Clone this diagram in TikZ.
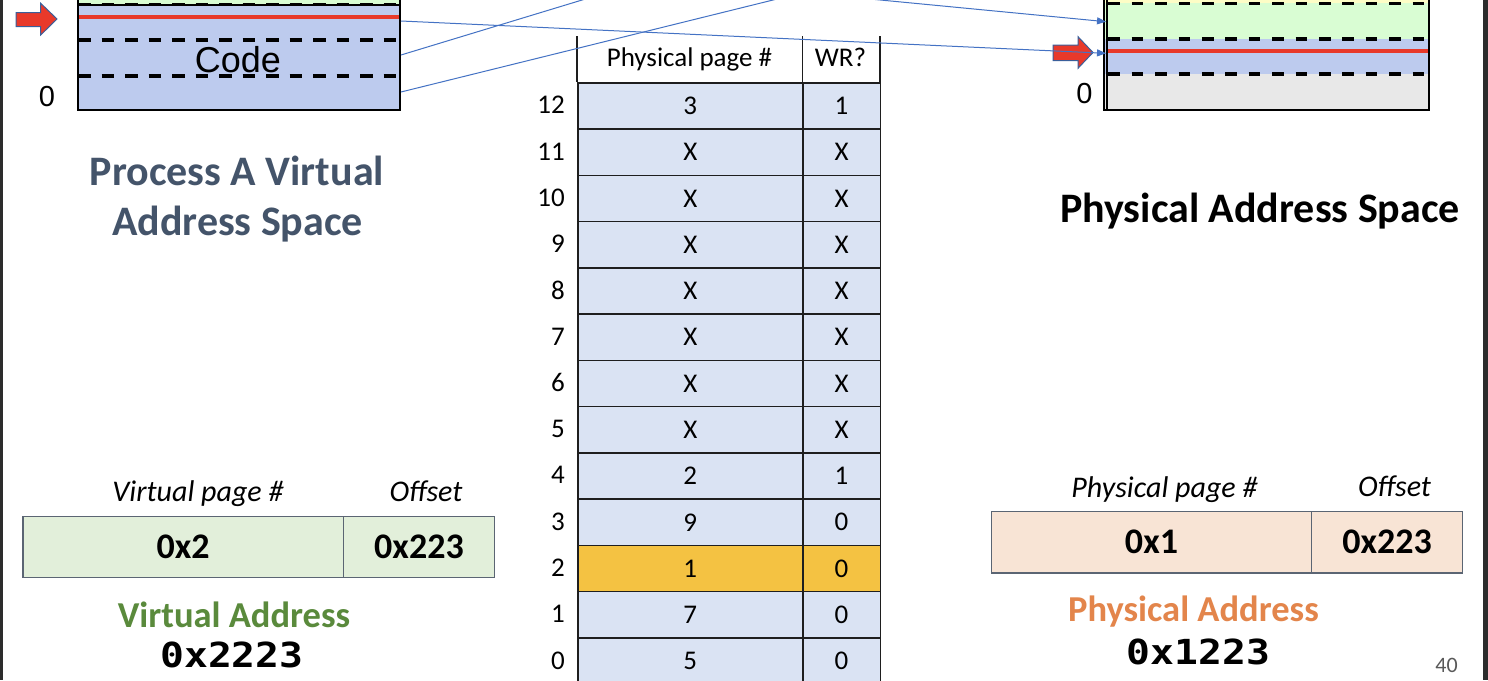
\documentclass[tikz,border=0pt]{standalone}
\usepackage{fontspec}
\setmainfont{Carlito}
\newfontfamily\arialf{Liberation Sans}
\newfontfamily\monof{DejaVu Sans Mono}
\usetikzlibrary{arrows.meta}
\definecolor{memblue}{HTML}{BDCBEE}
\definecolor{memgreen}{HTML}{D9FDD3}
\definecolor{memyellow}{HTML}{FDFDC6}
\definecolor{memgray}{HTML}{E8E8E8}
\definecolor{tabblue}{HTML}{DAE3F3}
\definecolor{tabgold}{HTML}{F4C242}
\definecolor{tabline}{HTML}{1E1E1E}
\definecolor{vabg}{HTML}{E2EFDA}
\definecolor{pabg}{HTML}{F8E4D5}
\definecolor{boxline}{HTML}{5B6573}
\definecolor{titlegray}{HTML}{44546A}
\definecolor{vagreen}{HTML}{5A8A3C}
\definecolor{paorange}{HTML}{E3854B}
\definecolor{arrred}{HTML}{E8392A}
\definecolor{arrline}{HTML}{3A5F9A}
\definecolor{connblue}{HTML}{4472C4}
\definecolor{edgedark}{HTML}{2C2C2C}
\definecolor{pagenum}{HTML}{595959}
\begin{document}
\begin{tikzpicture}[x=1pt,y=-1pt,
  dashsepl/.style={line width=3.4pt, dash pattern=on 12.5pt off 11pt},
  dashsepr/.style={line width=3.4pt, dash pattern=on 11.7pt off 11.7pt},
  redsep/.style={arrred, line width=4pt},
  memedge/.style={line width=2pt, black},
  blockarrow/.style={fill=arrred, draw=arrline, line width=1pt, line join=miter},
  conn/.style={connblue, line width=1pt},
  conntip/.style={conn, -{Triangle[length=9pt,width=7pt]}},
  cell/.style={draw=tabline, line width=1.5pt, inner sep=0pt, anchor=north west, minimum height=46.27pt, font=\fontsize{27}{32}\selectfont},
  rowlab/.style={anchor=east, inner sep=0pt, font=\fontsize{27}{32}\selectfont},
  headtxt/.style={anchor=base, inner sep=0pt, font=\fontsize{27}{32}\selectfont},
  fieldlab/.style={anchor=base, inner sep=0pt, font=\itshape\fontsize{30}{36}\selectfont},
  addrcell/.style={draw=boxline, line width=1.3pt, inner sep=0pt, anchor=north west, font=\bfseries\fontsize{36}{43}\selectfont},
  addrtitle/.style={anchor=base, inner sep=0pt, font=\bfseries\fontsize{36.5}{44}\selectfont},
  addrval/.style={anchor=base, inner sep=0pt, font=\monof\bfseries\fontsize{34.5}{41}\selectfont},
  spacetitle/.style={anchor=base, inner sep=0pt, font=\bfseries\fontsize{42}{50}\selectfont},
  zerolab/.style={anchor=base, inner sep=0pt, font=\arialf\fontsize{29}{35}\selectfont},
]
\useasboundingbox (0,0) rectangle (1488,680);
\clip (0,0) rectangle (1488,680);
\fill[white] (0,0) rectangle (1488,680);

% ---- left (virtual) memory box
\fill[memgreen] (78,-20) rectangle (400,5);
\fill[memblue] (78,5) rectangle (400,110);
\draw[line width=1.8pt] (78,5) -- (400,5);
\draw[dashsepl] (78,4.5) -- (400,4.5);
\draw[dashsepl] (78,40) -- (400,40);
\draw[dashsepl] (78,76) -- (400,76);
\draw[redsep] (78,16.7) -- (400,16.7);
\draw[memedge] (77.5,-20) -- (77.5,110) -- (400,110) -- (400,-20);
\node[anchor=base, inner sep=0pt, font=\arialf\fontsize{36}{43}\selectfont] (code) at (238,72) {Code};
\node[zerolab] (vzero) at (47,106.7) {0};
\draw[blockarrow] (16,12.7) -- (40.7,12.7) -- (40.7,3.3) -- (57,19) -- (40.7,35) -- (40.7,26.7) -- (16,26.7) -- cycle;

% ---- right (physical) memory box
\fill[memyellow] (1105,-20) rectangle (1429,3.3);
\fill[memgreen] (1105,3.3) rectangle (1429,39);
\fill[memblue] (1105,39) rectangle (1429,74);
\fill[memgray] (1105,74) rectangle (1429,110);
\draw[dashsepr] (1108.3,3.3) -- (1429,3.3);
\draw[dashsepr] (1108.3,39) -- (1429,39);
\draw[dashsepr] (1108.3,74) -- (1429,74);
\draw[redsep] (1107,50.7) -- (1429,50.7);
\draw[memedge] (1104,-20) -- (1104,110) -- (1429,110) -- (1429,-20);
\draw[line width=1.5pt] (1107.2,-20) -- (1107.2,110);
\node[zerolab] (pzero) at (1084.5,103.3) {0};
\draw[blockarrow] (1053,45) -- (1078,45) -- (1078,36.7) -- (1093,52.5) -- (1078,68.3) -- (1078,60.7) -- (1053,60.7) -- cycle;

% ---- titles
\node[spacetitle, text=titlegray] (vt1) at (237,185) {Process A Virtual};
\node[spacetitle, text=titlegray] (vt2) at (237.5,235) {Address Space};
\node[spacetitle] (pt) at (1260,222) {Physical Address Space};

% ---- page table
\node[anchor=north west, minimum width=225pt, minimum height=46pt, inner sep=0pt] (hpp) at (577,36) {};
\node[anchor=north west, minimum width=77.5pt, minimum height=46pt, inner sep=0pt] (hwr) at (802,36) {};
\node[headtxt] (hpptxt) at (689.5,66.7) {Physical page \#};
\node[headtxt] (hwrtxt) at (840.5,66.7) {WR?};
\draw[tabline, line width=1.5pt] (hpp.north west) -- (hpp.south west)
  (hpp.north east) -- (hpp.south east) (hwr.north east) -- (hwr.south east);
\foreach \lab/\pp/\wr [count=\k from 0] in {12/3/1,11/X/X,10/X/X,9/X/X,8/X/X,7/X/X,6/X/X,5/X/X,4/2/1,3/9/0,2/1/0,1/7/0,0/5/0}{
  \ifnum\lab=2 \def\rowfill{tabgold}\else\def\rowfill{tabblue}\fi
  \pgfmathsetmacro\ytop{82+46.27*\k}
  \pgfmathsetmacro\ymid{\ytop+23.13}
  \node[cell, fill=\rowfill, minimum width=225pt] (pp\lab) at (577,\ytop) {\pp};
  \node[cell, fill=\rowfill, minimum width=77.5pt] (wr\lab) at (802,\ytop) {\wr};
  \node[rowlab] (lab\lab) at (565,\ymid) {\lab};
}

% ---- virtual address
\node[fieldlab] (vpnlab) at (198,501.5) {Virtual page \#};
\node[fieldlab] (vofflab) at (426,501) {Offset};
\node[addrcell, fill=vabg, minimum width=320.4pt, minimum height=61pt] (vpn) at (22.3,515.7) {0x2};
\node[addrcell, fill=vabg, minimum width=151.3pt, minimum height=61pt] (voff) at (342.7,515.7) {0x223};
\node[addrtitle, text=vagreen] (vat) at (234,627) {Virtual Address};
\node[addrval] (vaval) at (232,667) {\scalebox{1.15}[1]{0x2223}};

% ---- physical address
\node[fieldlab] (ppnlab) at (1164.5,497) {Physical page \#};
\node[fieldlab] (pofflab) at (1394.5,496) {Offset};
\node[addrcell, fill=pabg, minimum width=320.3pt, minimum height=61.3pt] (ppn) at (990.7,511) {0x1};
\node[addrcell, fill=pabg, minimum width=151pt, minimum height=61.3pt] (poff) at (1311,511) {0x223};
\node[addrtitle, text=paorange] (pat) at (1193.5,621.7) {Physical Address};
\node[addrval] (paval) at (1198.5,664) {\scalebox{1.15}[1]{0x1223}};
\node[anchor=base, inner sep=0pt, text=pagenum, font=\fontsize{22}{26}\selectfont] (pnum) at (1446.5,672.7) {40};

% ---- connectors
\coordinate (vA) at (401,21);
\coordinate (vB) at (401,55);
\coordinate (vC) at (401,92);
\coordinate (pA) at (1106,53.3);
\coordinate (pD) at (1106,21.7);
\coordinate (outB) at (615,-10);
\coordinate (outC) at (813.5,-10);
\coordinate (inD) at (776.3,-10);
\draw[conntip] (vA) -- (pA);
\draw[conn] (vB) -- (outB);
\draw[conn] (vC) -- (outC);
\draw[conntip] (inD) -- (pD);

% ---- screenshot edges
\fill[edgedark] (0,0) rectangle (3.3,680);
\fill[edgedark] (1483,0) rectangle (1488,680);
\end{tikzpicture}
\end{document}
